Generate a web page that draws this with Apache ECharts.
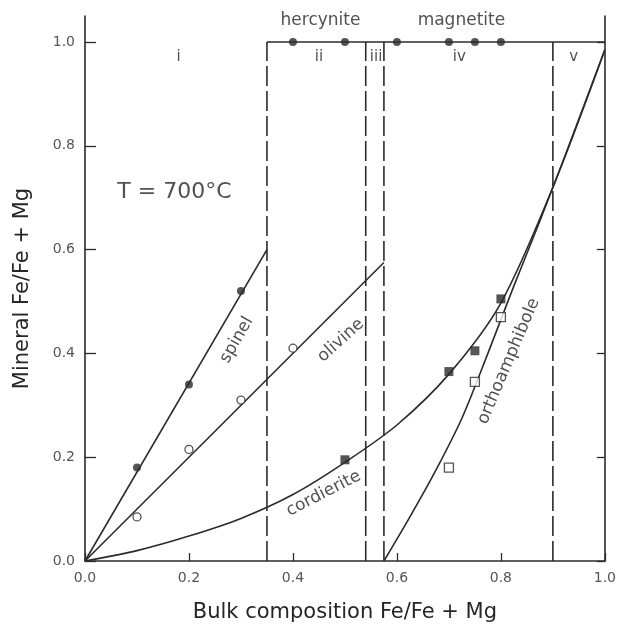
<!DOCTYPE html>
<html>
<head>
<meta charset="utf-8">
<script src="https://cdn.jsdelivr.net/npm/echarts@6/dist/echarts.min.js"></script>
<style>
html, body { margin: 0; padding: 0; background: #fff; }
#chart { width: 619px; height: 629px; }
</style>
</head>
<body>
<div id="chart"></div>
<script>
// ticks
var xTicks = [0, 0.2, 0.4, 0.6, 0.8, 1.0];
var yTicks = [0, 0.2, 0.4, 0.6, 0.8, 1.0];
// field boundaries (dashed verticals)
var boundaries = [0.35, 0.54, 0.575, 0.90];
// oxide (hercynite - magnetite) at Fe/Fe+Mg = 1
var oxideLine = [[0.35, 1.0], [1.0, 1.0]];
var oxidePoints = [[0.4, 1], [0.5, 1], [0.6, 1], [0.7, 1], [0.75, 1], [0.8, 1]];
// spinel
var spinelLine = [[0, 0], [0.35, 0.6]];
var spinelPoints = [[0.1, 0.18], [0.2, 0.34], [0.3, 0.52]];
// olivine
var olivineLine = [[0, 0], [0.575, 0.575]];
var olivinePoints = [[0.1, 0.085], [0.2, 0.215], [0.3, 0.31], [0.4, 0.41]];
// cordierite
var cordieriteLine = [[0, 0], [0.1, 0.02], [0.2, 0.048], [0.3, 0.082], [0.4, 0.128], [0.5, 0.19],
    [0.6, 0.262], [0.7, 0.36], [0.8, 0.497], [0.9, 0.72], [1.0, 0.985]];
var cordieritePoints = [[0.5, 0.195], [0.7, 0.365], [0.75, 0.405], [0.8, 0.505]];
// orthoamphibole
var orthoLine = [[0.575, 0], [0.625, 0.085], [0.675, 0.175], [0.725, 0.275], [0.775, 0.4],
    [0.825, 0.53], [0.875, 0.655], [0.925, 0.785], [1.0, 0.985]];
var orthoPoints = [[0.7, 0.18], [0.75, 0.345], [0.8, 0.47]];
// text labels
var regionNames = ['i', 'ii', 'iii', 'iv', 'v'];
var regionX = [0.18, 0.45, 0.56, 0.72, 0.94];
var curveLabels = [
    { text: 'spinel', pos: [0.292, 0.426], rot: 60 },
    { text: 'olivine', pos: [0.492, 0.425], rot: 42 },
    { text: 'cordierite', pos: [0.459, 0.13], rot: 27 },
    { text: 'orthoamphibole', pos: [0.815, 0.385], rot: 67 },
    { text: 'hercynite', pos: [0.453, 1.042], rot: 0 },
    { text: 'magnetite', pos: [0.724, 1.042], rot: 0 },
    { text: 'T = 700°C', pos: [0.172, 0.71], rot: 0, size: 22 }
];

var ink = '#2b2b2b';
var font = 'DejaVu Sans';

function lineSeries(data, dashed) {
    return {
        type: 'line', data: data, symbol: 'none', smooth: false, silent: true,
        lineStyle: { color: ink, width: 1.6, type: dashed ? [20, 5] : 'solid' }
    };
}
function curveSeries(data) {
    return {
        type: 'line', data: data, symbol: 'none', smooth: 0.3, silent: true,
        lineStyle: { color: ink, width: 1.6 }
    };
}
function pointSeries(data, symbol, open) {
    return {
        type: 'scatter', data: data, symbol: symbol, symbolSize: symbol == 'rect' ? 9 : 8, z: 5,
        itemStyle: open ? { color: '#fff', borderColor: ink, borderWidth: 1.3 } : { color: ink }
    };
}

var series = [];
boundaries.forEach(function (b) {
    series.push(lineSeries([[b, 0], [b, 1]], true));
});
series.push(lineSeries(oxideLine, false));
series.push(lineSeries(spinelLine, false));
series.push(lineSeries(olivineLine, false));
series.push(curveSeries(cordieriteLine));
series.push(curveSeries(orthoLine));
series.push(pointSeries(oxidePoints, 'circle', false));
series.push(pointSeries(spinelPoints, 'circle', false));
series.push(pointSeries(olivinePoints, 'circle', true));
series.push(pointSeries(cordieritePoints, 'rect', false));
series.push(pointSeries(orthoPoints, 'rect', true));

var textData = regionNames.map(function (n, i) {
    return { value: [regionX[i], 0.97], label: { formatter: n, fontSize: 15 } };
});
curveLabels.forEach(function (c) {
    textData.push({ value: c.pos, label: { formatter: c.text, rotate: c.rot, fontSize: c.size || 17 } });
});
series.push({
    type: 'scatter', data: textData, symbolSize: 0, silent: true, z: 6,
    label: { show: true, position: 'inside', color: '#262626', fontFamily: font, align: 'center', verticalAlign: 'middle' }
});

var option = {
    animation: false,
    backgroundColor: '#fff',
    grid: { left: 85, right: 13, top: 16, bottom: 68 },
    xAxis: {
        type: 'value', min: 0, max: 1, interval: 0.2,
        name: 'Bulk composition Fe/Fe + Mg', nameLocation: 'middle', nameGap: 41,
        nameTextStyle: { fontFamily: font, fontSize: 21, color: '#262626' },
        axisLine: { lineStyle: { color: ink, width: 1.6 } },
        axisTick: { inside: true, length: 8, lineStyle: { color: ink, width: 1.3 } },
        axisLabel: {
            customValues: xTicks, margin: 10, fontFamily: font, fontSize: 14, color: '#555',
            formatter: function (v) { return v.toFixed(1); }
        },
        splitLine: { show: false }
    },
    yAxis: [{
        type: 'value', min: 0, max: 1.05, position: 'left',
        name: 'Mineral Fe/Fe + Mg', nameLocation: 'middle', nameGap: 52,
        nameTextStyle: { fontFamily: font, fontSize: 21, color: '#262626' },
        axisLine: { show: true, lineStyle: { color: ink, width: 1.6 } },
        axisTick: { inside: true, length: 11, customValues: yTicks, lineStyle: { color: ink, width: 1.3 } },
        axisLabel: {
            customValues: yTicks, margin: 10, fontFamily: font, fontSize: 14, color: '#555',
            formatter: function (v) { return v.toFixed(1); }
        },
        splitLine: { show: false }
    }, {
        type: 'value', min: 0, max: 1.05, position: 'right',
        axisLine: { show: true, lineStyle: { color: ink, width: 1.6 } },
        axisTick: { inside: true, length: 8, customValues: yTicks, lineStyle: { color: ink, width: 1.3 } },
        axisLabel: { show: false },
        splitLine: { show: false }
    }],
    series: series
};

var myChart = echarts.init(document.getElementById('chart'));
myChart.setOption(option);
</script>
</body>
</html>
